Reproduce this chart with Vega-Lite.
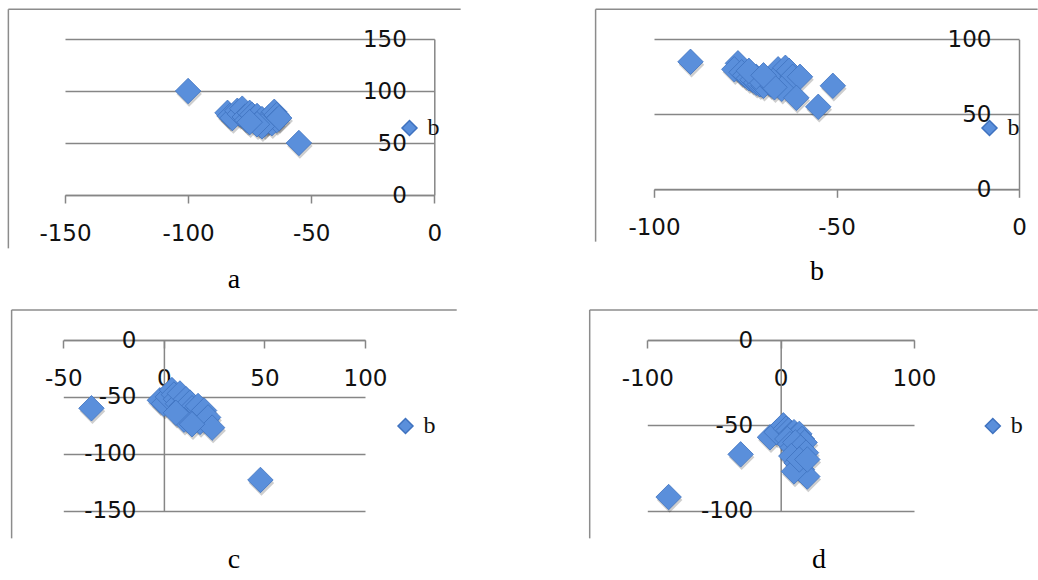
{
  "$schema": "https://vega.github.io/schema/vega-lite/v6.json",
  "padding": 0,
  "spacing": 0,
  "background": "white",
  "config": {"view": {"stroke": null}},
  "datasets": {
    "frame": [{}],
    "a": [
      {"x": -100, "y": 100, "s": "b"}, {"x": -55, "y": 50, "s": "b"},
      {"x": -84, "y": 79, "s": "b"}, {"x": -83, "y": 76, "s": "b"}, {"x": -82, "y": 74, "s": "b"},
      {"x": -80, "y": 81, "s": "b"}, {"x": -79, "y": 78, "s": "b"}, {"x": -78, "y": 83, "s": "b"},
      {"x": -77, "y": 75, "s": "b"}, {"x": -76, "y": 72, "s": "b"}, {"x": -75, "y": 79, "s": "b"},
      {"x": -74, "y": 77, "s": "b"}, {"x": -73, "y": 74, "s": "b"}, {"x": -72, "y": 76, "s": "b"},
      {"x": -71, "y": 70, "s": "b"}, {"x": -70, "y": 73, "s": "b"}, {"x": -69, "y": 68, "s": "b"},
      {"x": -68, "y": 71, "s": "b"}, {"x": -67, "y": 75, "s": "b"}, {"x": -66, "y": 69, "s": "b"},
      {"x": -65, "y": 80, "s": "b"}, {"x": -64, "y": 77, "s": "b"}, {"x": -64, "y": 72, "s": "b"},
      {"x": -70, "y": 66, "s": "b"}, {"x": -72, "y": 68, "s": "b"}, {"x": -75, "y": 70, "s": "b"},
      {"x": -63, "y": 74, "s": "b"}
    ],
    "b": [
      {"x": -90, "y": 85, "s": "b"}, {"x": -77, "y": 84, "s": "b"}, {"x": -78, "y": 80, "s": "b"},
      {"x": -76, "y": 78, "s": "b"}, {"x": -75, "y": 76, "s": "b"}, {"x": -74, "y": 74, "s": "b"},
      {"x": -73, "y": 73, "s": "b"}, {"x": -72, "y": 71, "s": "b"}, {"x": -71, "y": 70, "s": "b"},
      {"x": -70, "y": 72, "s": "b"}, {"x": -70, "y": 69, "s": "b"}, {"x": -69, "y": 73, "s": "b"},
      {"x": -68, "y": 70, "s": "b"}, {"x": -67, "y": 76, "s": "b"}, {"x": -66, "y": 80, "s": "b"},
      {"x": -65, "y": 78, "s": "b"}, {"x": -64, "y": 81, "s": "b"}, {"x": -63, "y": 79, "s": "b"},
      {"x": -62, "y": 75, "s": "b"}, {"x": -60, "y": 75, "s": "b"}, {"x": -65, "y": 67, "s": "b"},
      {"x": -67, "y": 68, "s": "b"}, {"x": -61, "y": 61, "s": "b"}, {"x": -55, "y": 55, "s": "b"},
      {"x": -51, "y": 69, "s": "b"}, {"x": -72, "y": 75, "s": "b"}, {"x": -74, "y": 79, "s": "b"},
      {"x": -70, "y": 76, "s": "b"}
    ],
    "c": [
      {"x": -36, "y": -60, "s": "b"}, {"x": 48, "y": -123, "s": "b"}, {"x": -2, "y": -53, "s": "b"},
      {"x": 0, "y": -56, "s": "b"}, {"x": 2, "y": -50, "s": "b"}, {"x": 4, "y": -44, "s": "b"},
      {"x": 5, "y": -48, "s": "b"}, {"x": 6, "y": -52, "s": "b"}, {"x": 7, "y": -56, "s": "b"},
      {"x": 8, "y": -47, "s": "b"}, {"x": 9, "y": -58, "s": "b"}, {"x": 10, "y": -62, "s": "b"},
      {"x": 11, "y": -52, "s": "b"}, {"x": 12, "y": -66, "s": "b"}, {"x": 13, "y": -55, "s": "b"},
      {"x": 14, "y": -60, "s": "b"}, {"x": 15, "y": -68, "s": "b"}, {"x": 16, "y": -64, "s": "b"},
      {"x": 17, "y": -58, "s": "b"}, {"x": 18, "y": -72, "s": "b"}, {"x": 19, "y": -66, "s": "b"},
      {"x": 20, "y": -62, "s": "b"}, {"x": 21, "y": -70, "s": "b"}, {"x": 22, "y": -68, "s": "b"},
      {"x": 24, "y": -77, "s": "b"}, {"x": 10, "y": -70, "s": "b"}, {"x": 6, "y": -64, "s": "b"},
      {"x": 14, "y": -74, "s": "b"}
    ],
    "d": [
      {"x": -84, "y": -92, "s": "b"}, {"x": -30, "y": -67, "s": "b"}, {"x": -8, "y": -57, "s": "b"},
      {"x": -3, "y": -54, "s": "b"}, {"x": 2, "y": -50, "s": "b"}, {"x": 4, "y": -52, "s": "b"},
      {"x": 6, "y": -53, "s": "b"}, {"x": 8, "y": -55, "s": "b"}, {"x": 10, "y": -54, "s": "b"},
      {"x": 12, "y": -56, "s": "b"}, {"x": 14, "y": -55, "s": "b"}, {"x": 16, "y": -58, "s": "b"},
      {"x": 18, "y": -60, "s": "b"}, {"x": 5, "y": -58, "s": "b"}, {"x": 7, "y": -61, "s": "b"},
      {"x": 9, "y": -63, "s": "b"}, {"x": 11, "y": -60, "s": "b"}, {"x": 13, "y": -65, "s": "b"},
      {"x": 15, "y": -63, "s": "b"}, {"x": 17, "y": -68, "s": "b"}, {"x": 19, "y": -66, "s": "b"},
      {"x": 8, "y": -68, "s": "b"}, {"x": 12, "y": -72, "s": "b"}, {"x": 16, "y": -76, "s": "b"},
      {"x": 20, "y": -80, "s": "b"}, {"x": 10, "y": -77, "s": "b"}, {"x": 14, "y": -70, "s": "b"},
      {"x": 20, "y": -70, "s": "b"}
    ]
  },
  "resolve": {"scale": {"color": "independent", "x": "independent", "y": "independent"}, "legend": {"color": "independent"}, "axis": {"x": "independent", "y": "independent"}},
  "vconcat": [
    {
      "spacing": 0,
      "resolve": {"scale": {"color": "independent", "x": "independent", "y": "independent"}, "legend": {"color": "independent"}, "axis": {"x": "independent", "y": "independent"}},
      "hconcat": [
        {
          "width": 519, "height": 300,
          "title": {"text": "a", "orient": "bottom", "baseline": "alphabetic", "offset": -12, "dx": -25.5, "anchor": "middle", "font": "Liberation Serif", "fontSize": 28, "fontWeight": "normal", "color": "#000"},
          "layer": [
            {"data": {"name": "frame"}, "mark": {"type": "rule", "color": "#8c8c8c", "strokeWidth": 1.5}, "encoding": {"x": {"datum": -173, "type": "quantitative"}, "x2": {"datum": 10.7}, "y": {"datum": 178.6, "type": "quantitative"}}},
            {"data": {"name": "frame"}, "mark": {"type": "rule", "color": "#8c8c8c", "strokeWidth": 1.5}, "encoding": {"x": {"datum": -173, "type": "quantitative"}, "y": {"datum": 178.6, "type": "quantitative"}, "y2": {"datum": -51.3}}},
            {"data": {"name": "a"}, "mark": {"type": "point", "shape": "diamond", "filled": true, "size": 650, "color": "#222", "opacity": 0.22, "xOffset": 1, "yOffset": 3}, "encoding": {"x": {"field": "x", "type": "quantitative"}, "y": {"field": "y", "type": "quantitative"}}},
            {"data": {"name": "a"}, "mark": {"type": "point", "shape": "diamond", "filled": true, "size": 650, "opacity": 1, "stroke": "#3f72bf", "strokeWidth": 0.8},
             "encoding": {
               "x": {"field": "x", "type": "quantitative", "scale": {"domain": [-150, 0], "range": [65, 434.3], "nice": false, "zero": false},
                     "axis": {"values": [-150, -100, -50, 0], "labelExpr": "'' + datum.value", "orient": "bottom", "offset": -105, "title": null, "grid": false, "domainColor": "#868686", "domainWidth": 1.5, "ticks": true, "tickSize": 8, "tickColor": "#868686", "tickWidth": 1.5, "labelFont": "DejaVu Sans", "labelFontSize": 23, "labelColor": "#111", "labelPadding": 19, "labelFlush": false, "labelOverlap": false, "labelBound": false}},
               "y": {"field": "y", "type": "quantitative", "scale": {"domain": [0, 150], "range": [195, 39], "nice": false, "zero": false},
                     "axis": {"values": [0, 50, 100, 150], "labelExpr": "'' + datum.value", "orient": "left", "offset": -434.3, "title": null, "grid": true, "gridColor": "#868686", "gridWidth": 1.5, "domainColor": "#868686", "domainWidth": 1.5, "ticks": false, "tickSize": 0, "labelFont": "DejaVu Sans", "labelFontSize": 23, "labelColor": "#111", "labelPadding": 28, "labelBaseline": "middle", "labelFlush": false, "labelOverlap": false, "labelBound": false}},
               "color": {"field": "s", "type": "nominal", "scale": {"domain": ["b"], "range": ["#5a8fdb"]},
                     "legend": {"orient": "none", "legendX": 397.5, "legendY": 116, "title": null, "symbolType": "diamond", "symbolSize": 225, "labelFont": "Liberation Serif", "labelFontSize": 24, "labelColor": "#111", "labelOffset": 6, "padding": 0}}
             }}
          ]
        },
        {
          "width": 519, "height": 300,
          "title": {"text": "b", "orient": "bottom", "baseline": "alphabetic", "offset": -20, "dx": 38.5, "anchor": "middle", "font": "Liberation Serif", "fontSize": 28, "fontWeight": "normal", "color": "#000"},
          "layer": [
            {"data": {"name": "frame"}, "mark": {"type": "rule", "color": "#8c8c8c", "strokeWidth": 1.5}, "encoding": {"x": {"datum": -116, "type": "quantitative"}, "x2": {"datum": 5.1}, "y": {"datum": 120, "type": "quantitative"}}},
            {"data": {"name": "frame"}, "mark": {"type": "rule", "color": "#8c8c8c", "strokeWidth": 1.5}, "encoding": {"x": {"datum": -116, "type": "quantitative"}, "y": {"datum": 120, "type": "quantitative"}, "y2": {"datum": -34.9}}},
            {"data": {"name": "b"}, "mark": {"type": "point", "shape": "diamond", "filled": true, "size": 650, "color": "#222", "opacity": 0.22, "xOffset": 1, "yOffset": 3}, "encoding": {"x": {"field": "x", "type": "quantitative"}, "y": {"field": "y", "type": "quantitative"}}},
            {"data": {"name": "b"}, "mark": {"type": "point", "shape": "diamond", "filled": true, "size": 650, "opacity": 1, "stroke": "#3f72bf", "strokeWidth": 0.8},
             "encoding": {
               "x": {"field": "x", "type": "quantitative", "scale": {"domain": [-100, 0], "range": [135, 500], "nice": false, "zero": false},
                     "axis": {"values": [-100, -50, 0], "labelExpr": "'' + datum.value", "orient": "bottom", "offset": -110.7, "title": null, "grid": false, "domainColor": "#868686", "domainWidth": 1.5, "ticks": true, "tickSize": 8, "tickColor": "#868686", "tickWidth": 1.5, "labelFont": "DejaVu Sans", "labelFontSize": 23, "labelColor": "#111", "labelPadding": 19, "labelFlush": false, "labelOverlap": false, "labelBound": false}},
               "y": {"field": "y", "type": "quantitative", "scale": {"domain": [0, 100], "range": [189.3, 39.3], "nice": false, "zero": false},
                     "axis": {"values": [0, 50, 100], "labelExpr": "'' + datum.value", "orient": "left", "offset": -500, "title": null, "grid": true, "gridColor": "#868686", "gridWidth": 1.5, "domainColor": "#868686", "domainWidth": 1.5, "ticks": false, "tickSize": 0, "labelFont": "DejaVu Sans", "labelFontSize": 23, "labelColor": "#111", "labelPadding": 28, "labelBaseline": "middle", "labelFlush": false, "labelOverlap": false, "labelBound": false}},
               "color": {"field": "s", "type": "nominal", "scale": {"domain": ["b"], "range": ["#5a8fdb"]},
                     "legend": {"orient": "none", "legendX": 458.5, "legendY": 116, "title": null, "symbolType": "diamond", "symbolSize": 225, "labelFont": "Liberation Serif", "labelFontSize": 24, "labelColor": "#111", "labelOffset": 6, "padding": 0}}
             }}
          ]
        }
      ]
    },
    {
      "spacing": 0,
      "resolve": {"scale": {"color": "independent", "x": "independent", "y": "independent"}, "legend": {"color": "independent"}, "axis": {"x": "independent", "y": "independent"}},
      "hconcat": [
        {
          "width": 519, "height": 280,
          "title": {"text": "c", "orient": "bottom", "baseline": "alphabetic", "offset": -12, "dx": -25.5, "anchor": "middle", "font": "Liberation Serif", "fontSize": 28, "fontWeight": "normal", "color": "#000"},
          "layer": [
            {"data": {"name": "frame"}, "mark": {"type": "rule", "color": "#8c8c8c", "strokeWidth": 1.5}, "encoding": {"x": {"datum": -75.7, "type": "quantitative"}, "x2": {"datum": 145.6}, "y": {"datum": 26.4, "type": "quantitative"}}},
            {"data": {"name": "frame"}, "mark": {"type": "rule", "color": "#8c8c8c", "strokeWidth": 1.5}, "encoding": {"x": {"datum": -75.7, "type": "quantitative"}, "y": {"datum": 26.4, "type": "quantitative"}, "y2": {"datum": -174.3}}},
            {"data": {"name": "c"}, "mark": {"type": "point", "shape": "diamond", "filled": true, "size": 650, "color": "#222", "opacity": 0.22, "xOffset": 1, "yOffset": 3}, "encoding": {"x": {"field": "x", "type": "quantitative"}, "y": {"field": "y", "type": "quantitative"}}},
            {"data": {"name": "c"}, "mark": {"type": "point", "shape": "diamond", "filled": true, "size": 650, "opacity": 1, "stroke": "#3f72bf", "strokeWidth": 0.8},
             "encoding": {
               "x": {"field": "x", "type": "quantitative", "scale": {"domain": [-50, 100], "range": [63.3, 365], "nice": false, "zero": false},
                     "axis": {"values": [-50, 0, 50, 100], "labelExpr": "'' + datum.value", "orient": "bottom", "offset": -240, "title": null, "grid": false, "domainColor": "#868686", "domainWidth": 1.5, "ticks": true, "tickSize": 8, "tickColor": "#868686", "tickWidth": 1.5, "labelFont": "DejaVu Sans", "labelFontSize": 23, "labelColor": "#111", "labelPadding": 19, "labelFlush": false, "labelOverlap": false, "labelBound": false}},
               "y": {"field": "y", "type": "quantitative", "scale": {"domain": [-150, 0], "range": [210.7, 40], "nice": false, "zero": false},
                     "axis": {"values": [-150, -100, -50, 0], "labelExpr": "'' + datum.value", "orient": "left", "offset": -163.9, "title": null, "grid": true, "gridColor": "#868686", "gridWidth": 1.5, "domainColor": "#868686", "domainWidth": 1.5, "ticks": false, "tickSize": 0, "labelFont": "DejaVu Sans", "labelFontSize": 23, "labelColor": "#111", "labelPadding": 28, "labelBaseline": "middle", "labelFlush": false, "labelOverlap": false, "labelBound": false}},
               "color": {"field": "s", "type": "nominal", "scale": {"domain": ["b"], "range": ["#5a8fdb"]},
                     "legend": {"orient": "none", "legendX": 393.5, "legendY": 114, "title": null, "symbolType": "diamond", "symbolSize": 225, "labelFont": "Liberation Serif", "labelFontSize": 24, "labelColor": "#111", "labelOffset": 6, "padding": 0}}
             }}
          ]
        },
        {
          "width": 519, "height": 280,
          "title": {"text": "d", "orient": "bottom", "baseline": "alphabetic", "offset": -12, "dx": 40.5, "anchor": "middle", "font": "Liberation Serif", "fontSize": 28, "fontWeight": "normal", "color": "#000"},
          "layer": [
            {"data": {"name": "frame"}, "mark": {"type": "rule", "color": "#8c8c8c", "strokeWidth": 1.5}, "encoding": {"x": {"datum": -143.2, "type": "quantitative"}, "x2": {"datum": 192.8}, "y": {"datum": 17.6, "type": "quantitative"}}},
            {"data": {"name": "frame"}, "mark": {"type": "rule", "color": "#8c8c8c", "strokeWidth": 1.5}, "encoding": {"x": {"datum": -143.2, "type": "quantitative"}, "y": {"datum": 17.6, "type": "quantitative"}, "y2": {"datum": -116.2}}},
            {"data": {"name": "d"}, "mark": {"type": "point", "shape": "diamond", "filled": true, "size": 650, "color": "#222", "opacity": 0.22, "xOffset": 1, "yOffset": 3}, "encoding": {"x": {"field": "x", "type": "quantitative"}, "y": {"field": "y", "type": "quantitative"}}},
            {"data": {"name": "d"}, "mark": {"type": "point", "shape": "diamond", "filled": true, "size": 650, "opacity": 1, "stroke": "#3f72bf", "strokeWidth": 0.8},
             "encoding": {
               "x": {"field": "x", "type": "quantitative", "scale": {"domain": [-100, 100], "range": [128.3, 395], "nice": false, "zero": false},
                     "axis": {"values": [-100, 0, 100], "labelExpr": "'' + datum.value", "orient": "bottom", "offset": -240, "title": null, "grid": false, "domainColor": "#868686", "domainWidth": 1.5, "ticks": true, "tickSize": 8, "tickColor": "#868686", "tickWidth": 1.5, "labelFont": "DejaVu Sans", "labelFontSize": 23, "labelColor": "#111", "labelPadding": 19, "labelFlush": false, "labelOverlap": false, "labelBound": false}},
               "y": {"field": "y", "type": "quantitative", "scale": {"domain": [-100, 0], "range": [210.7, 40], "nice": false, "zero": false},
                     "axis": {"values": [-100, -50, 0], "labelExpr": "'' + datum.value", "orient": "left", "offset": -261.7, "title": null, "grid": true, "gridColor": "#868686", "gridWidth": 1.5, "domainColor": "#868686", "domainWidth": 1.5, "ticks": false, "tickSize": 0, "labelFont": "DejaVu Sans", "labelFontSize": 23, "labelColor": "#111", "labelPadding": 28, "labelBaseline": "middle", "labelFlush": false, "labelOverlap": false, "labelBound": false}},
               "color": {"field": "s", "type": "nominal", "scale": {"domain": ["b"], "range": ["#5a8fdb"]},
                     "legend": {"orient": "none", "legendX": 461.8, "legendY": 114, "title": null, "symbolType": "diamond", "symbolSize": 225, "labelFont": "Liberation Serif", "labelFontSize": 24, "labelColor": "#111", "labelOffset": 6, "padding": 0}}
             }}
          ]
        }
      ]
    }
  ]
}
